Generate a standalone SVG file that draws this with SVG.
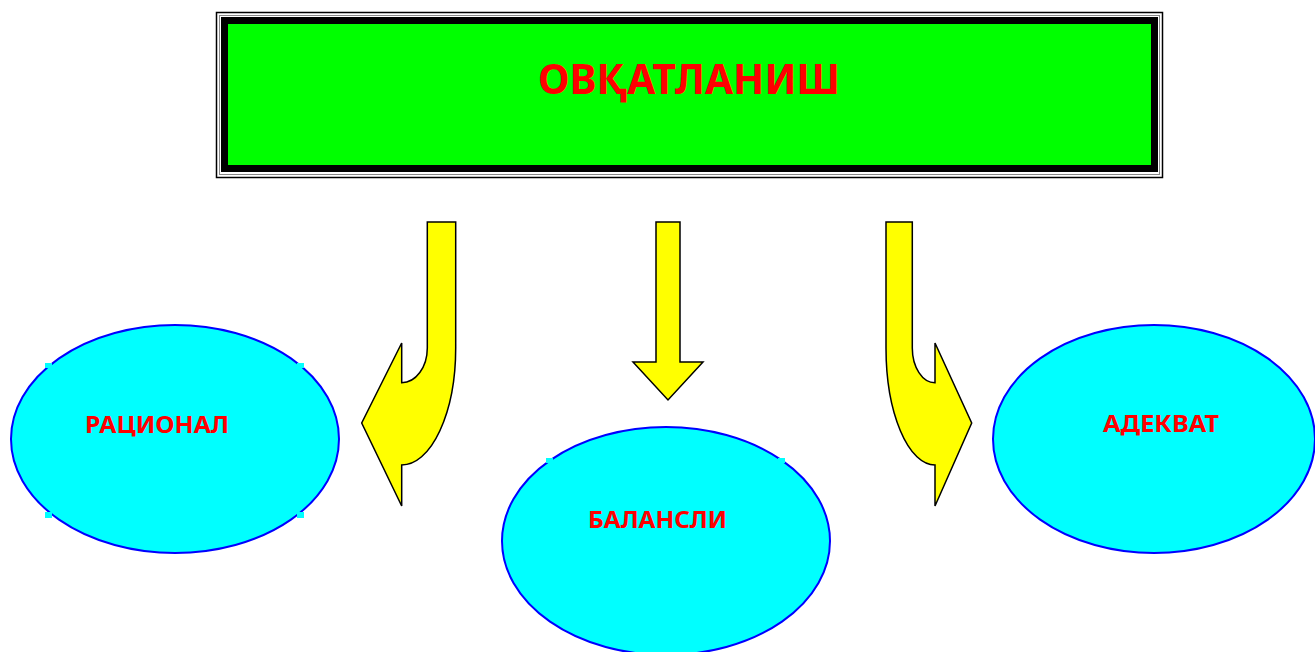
<svg xmlns="http://www.w3.org/2000/svg" width="1315" height="652" viewBox="0 0 1315 652">
  <style>
    .label { font-family: "Noto Sans", "Open Sans", "Liberation Sans", sans-serif; font-weight: bold; fill: #FF0000; text-anchor: middle; }
    .oval { fill: #00FFFF; stroke: #0000FF; stroke-width: 2; }
    .patch { fill: #00FFFF; }
    .arrow { fill: #FFFF00; stroke: #000000; stroke-width: 1.5; stroke-linejoin: miter; }
  </style>
  <rect width="1315" height="652" fill="#FFFFFF"/>

  <!-- Header box: double outline, thick black band, green panel -->
  <g id="node-title">
    <rect x="216.5" y="12.5" width="946" height="165" fill="#FFFFFF" stroke="#000000" stroke-width="1.5"/>
    <rect x="219.5" y="15.5" width="940" height="159" fill="none" stroke="#888888" stroke-width="1"/>
    <rect x="221" y="17" width="937" height="155" fill="#000000"/>
    <rect x="228" y="24" width="923" height="141" fill="#00FF00"/>
    <text class="label" x="689" y="94" font-size="41" textLength="302" lengthAdjust="spacingAndGlyphs">ОВҚАТЛАНИШ</text>
  </g>

  <!-- Block arrows from the header to the three ovals -->
  <g id="connectors">
    <path class="arrow" d="M427.3,222 L455.7,222 L455.7,348 A54,117 0 0 1 401.7,465 L401.7,506 L361.7,423 L401.7,343 L401.7,382.7 A25.6,34.7 0 0 0 427.3,348 Z"/>
    <path class="arrow" d="M656,222 L680,222 L680,362 L703,362 L668,400 L633,362 L656,362 Z"/>
    <path class="arrow" d="M912.3,222 L886,222 L886,348 A49,117 0 0 0 935,465 L935,506 L971.7,423 L935,343 L935,382.7 A22.7,34.7 0 0 1 912.3,348 Z"/>
  </g>

  <g id="node-rational">
    <ellipse class="oval" cx="175" cy="439" rx="164" ry="114"/>
    <rect class="patch" x="45" y="363" width="7" height="5"/>
    <rect class="patch" x="297" y="363" width="7" height="5"/>
    <rect class="patch" x="45" y="512" width="7" height="6"/>
    <rect class="patch" x="297" y="512" width="7" height="6"/>
    <text class="label" x="157" y="433" font-size="24" textLength="144" lengthAdjust="spacingAndGlyphs">РАЦИОНАЛ</text>
  </g>

  <g id="node-balanced">
    <ellipse class="oval" cx="666" cy="541" rx="164" ry="114"/>
    <rect class="patch" x="546" y="458" width="7" height="5"/>
    <rect class="patch" x="778" y="458" width="7" height="5"/>
    <text class="label" x="657.5" y="528" font-size="24" textLength="139" lengthAdjust="spacingAndGlyphs">БАЛАНСЛИ</text>
  </g>

  <g id="node-adequate">
    <ellipse class="oval" cx="1154" cy="439" rx="161" ry="114"/>
    <text class="label" x="1161" y="432" font-size="24" textLength="116" lengthAdjust="spacingAndGlyphs">АДЕКВАТ</text>
  </g>
</svg>
